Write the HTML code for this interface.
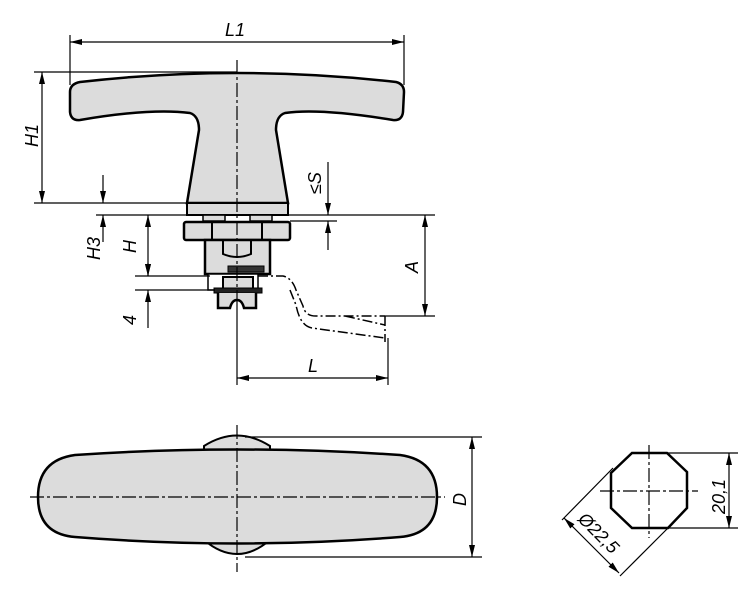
<!DOCTYPE html>
<html><head><meta charset="utf-8"><style>
html,body{margin:0;padding:0;background:#fff;}
svg{display:block}
text{font-family:"Liberation Sans",sans-serif;font-style:italic;font-size:18px;fill:#000}
</style></head><body>
<svg width="750" height="600" viewBox="0 0 750 600" xmlns="http://www.w3.org/2000/svg">
<defs>
<marker id="a" viewBox="0 0 12 6" refX="12" refY="3" markerWidth="12" markerHeight="6" orient="auto-start-reverse" markerUnits="userSpaceOnUse"><path d="M0,0 L12,3 L0,6 Z" fill="#000"/></marker>
</defs>
<g stroke="#000" fill="none">
<path d="M80,82 Q237,64 396,82 Q404,84 404,92 L403,112 Q402,121 393,120 Q320,108 285,113 Q276,116 276,130 L288,203 L187,203 L199,130 Q199,116 190,113 Q150,108 80,120 Q71,121 70,112 L70,92 Q70,84 80,82 Z" fill="#dcdcdc" stroke-width="2.5"/>
<rect x="187" y="203" width="101" height="12" fill="#dcdcdc" stroke-width="2"/>
<rect x="203" y="215" width="22" height="6" fill="#dcdcdc" stroke-width="1.5"/>
<rect x="250" y="215" width="22" height="6" fill="#dcdcdc" stroke-width="1.5"/>
<rect x="184" y="222" width="106" height="18" rx="2" fill="#dcdcdc" stroke-width="2.5"/>
<line x1="212" y1="222" x2="212" y2="240" stroke-width="2"/>
<line x1="262" y1="222" x2="262" y2="240" stroke-width="2"/>
<rect x="205" y="240" width="65" height="34" fill="#dcdcdc" stroke-width="2.5"/>
<path d="M223,240 L223,254 Q237,260 251,254 L251,240" stroke-width="2"/>
<rect x="208" y="274" width="50" height="16" fill="#fff" stroke-width="1.5"/>
<rect x="228" y="266" width="36" height="6" fill="#333" stroke-width="1"/>
<rect x="223" y="277" width="30" height="13" fill="#dcdcdc" stroke-width="2"/>
<rect x="214" y="288" width="48" height="5" fill="#222" stroke-width="1"/>
<path d="M218,293 L218,308 L230,308 Q232,300 237,300 Q242,300 244,308 L256,308 L256,293" fill="#dcdcdc" stroke-width="2.5"/>
<path d="M258,276 L283,276 Q292,278 296,290 L303,306 Q305,316 316,316 L385,316 M290,290 L296,305 Q300,326 312,328 L385,338 M345,316 L385,325" stroke-width="1.5" stroke-dasharray="10,3,2,3"/>
<line x1="385" y1="316" x2="385" y2="342" stroke-width="1.5" stroke-dasharray="10,3,2,3"/>
<line x1="237" y1="60" x2="237" y2="300" stroke-width="1.2" stroke-dasharray="14,3,3,3"/>
<line x1="237" y1="300" x2="237" y2="385" stroke-width="1.2"/>
<g stroke-width="1.2">
<line x1="70" y1="35" x2="70" y2="85"/><line x1="404" y1="35" x2="404" y2="85"/>
<line x1="70" y1="42" x2="404" y2="42" marker-start="url(#a)" marker-end="url(#a)"/>
<line x1="34" y1="72" x2="237" y2="72"/>
<line x1="34" y1="203" x2="188" y2="203"/>
<line x1="42" y1="72" x2="42" y2="203" marker-start="url(#a)" marker-end="url(#a)"/>
<line x1="96" y1="215" x2="435" y2="215"/>
<line x1="103" y1="175" x2="103" y2="203" marker-end="url(#a)"/>
<line x1="103" y1="242" x2="103" y2="215" marker-end="url(#a)"/>
<line x1="148" y1="215" x2="148" y2="276" marker-start="url(#a)" marker-end="url(#a)"/>
<line x1="135" y1="276" x2="210" y2="276"/>
<line x1="135" y1="290" x2="215" y2="290"/>
<line x1="148" y1="263" x2="148" y2="276" marker-end="url(#a)"/>
<line x1="148" y1="328" x2="148" y2="290" marker-end="url(#a)"/>
<line x1="290" y1="221" x2="337" y2="221"/>
<line x1="328" y1="162" x2="328" y2="215" marker-end="url(#a)"/>
<line x1="328" y1="250" x2="328" y2="221" marker-end="url(#a)"/>
<line x1="385" y1="316" x2="435" y2="316"/>
<line x1="425" y1="215" x2="425" y2="316" marker-start="url(#a)" marker-end="url(#a)"/>
<line x1="388" y1="338" x2="388" y2="385"/>
<line x1="237" y1="378" x2="388" y2="378" marker-start="url(#a)" marker-end="url(#a)"/>
</g>
<path d="M204,446 Q237,425 270,446 L270,452 L204,452 Z" fill="#dcdcdc" stroke-width="2"/>
<path d="M204,540 Q237,568 270,540 L270,536 L204,536 Z" fill="#dcdcdc" stroke-width="2"/>
<path d="M75,455 Q237,444 400,455 Q437,460 437,497 Q437,534 400,537 Q237,550 75,537 Q38,534 38,497 Q38,460 75,455 Z" fill="#dcdcdc" stroke-width="2.5"/>
<line x1="30" y1="497" x2="445" y2="497" stroke-width="1.2" stroke-dasharray="14,3,3,3"/>
<line x1="237" y1="425" x2="237" y2="572" stroke-width="1.2" stroke-dasharray="14,3,3,3"/>
<g stroke-width="1.2">
<line x1="245" y1="437" x2="482" y2="437"/>
<line x1="245" y1="557" x2="482" y2="557"/>
<line x1="472" y1="437" x2="472" y2="557" marker-start="url(#a)" marker-end="url(#a)"/>
</g>
<path d="M632,453 L667,453 L687,472 L687,508 L668,528 L632,528 L611,508 L611,473 Z" fill="#fff" stroke-width="2.5"/>
<line x1="600" y1="491" x2="698" y2="491" stroke-width="1.2" stroke-dasharray="14,3,3,3"/>
<line x1="649" y1="445" x2="649" y2="538" stroke-width="1.2" stroke-dasharray="14,3,3,3"/>
<g stroke-width="1.2">
<line x1="667" y1="453" x2="738" y2="453"/>
<line x1="668" y1="528" x2="738" y2="528"/>
<line x1="729" y1="453" x2="729" y2="528" marker-start="url(#a)" marker-end="url(#a)"/>
<line x1="613" y1="468" x2="562" y2="520"/>
<line x1="668" y1="528" x2="620" y2="576"/>
<line x1="564" y1="518" x2="619" y2="573" marker-start="url(#a)" marker-end="url(#a)"/>
</g>
</g>
<text x="225" y="36">L1</text>
<text transform="translate(38,147) rotate(-90)">H1</text>
<text transform="translate(100,260) rotate(-90)">H3</text>
<text transform="translate(136,253) rotate(-90)">H</text>
<text transform="translate(136,325) rotate(-90)">4</text>
<text transform="translate(321,194) rotate(-90)">≤S</text>
<text transform="translate(418,273) rotate(-90)">A</text>
<text x="308" y="372">L</text>
<text transform="translate(466,506) rotate(-90)">D</text>
<text transform="translate(725,514) rotate(-90)">20,1</text>
<text transform="translate(577,520) rotate(45)">Ø22,5</text>
</svg>
</body></html>
